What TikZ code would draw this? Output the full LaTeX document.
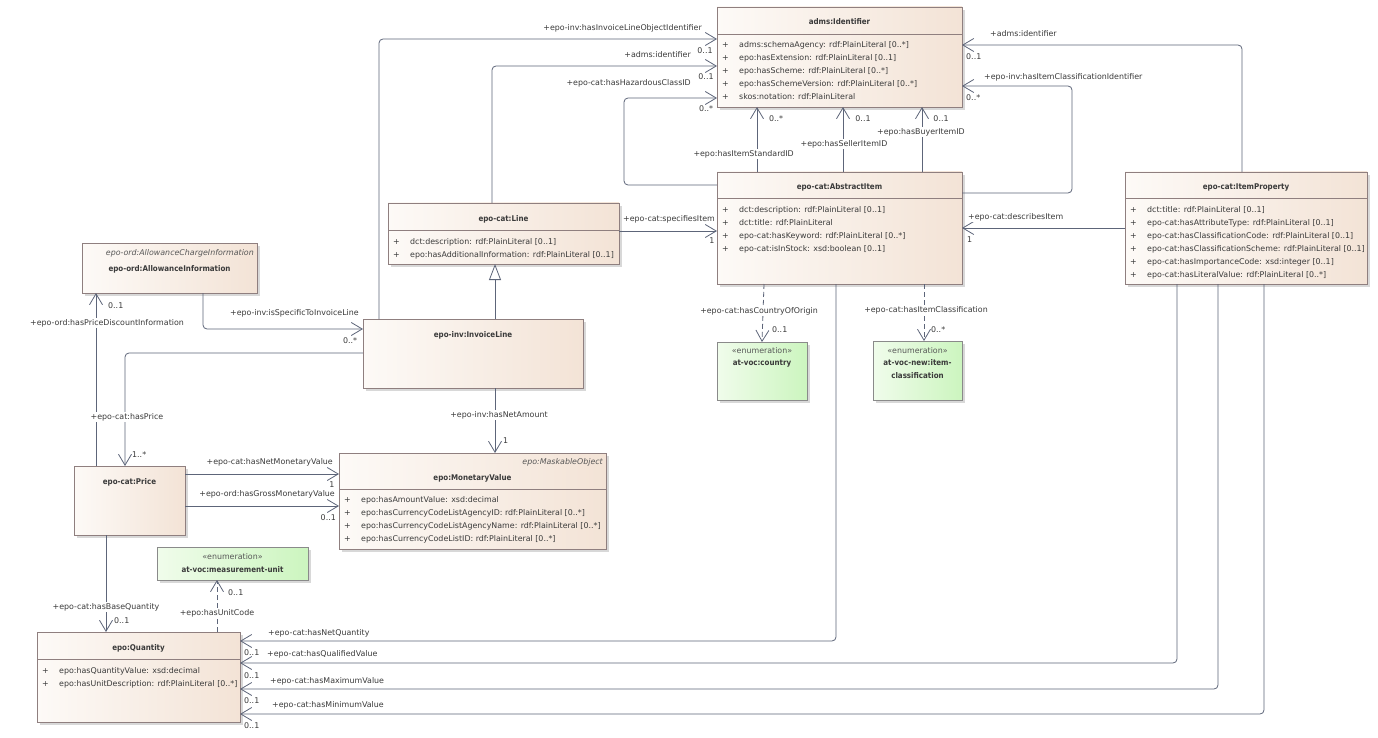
\documentclass[tikz,border=0pt]{standalone}
\usepackage{fontspec}
\setmainfont{DejaVu Sans}
\newfontfamily\ttlfam{DejaVu Sans}[FakeStretch=0.9]
\usetikzlibrary{arrows.meta,shadows}
\definecolor{linec}{HTML}{5D6579}
\definecolor{clsb}{HTML}{8F7F7F}
\definecolor{clsl}{HTML}{FDFAF7}
\definecolor{clsr}{HTML}{F3E3D6}
\definecolor{enl}{HTML}{F0FCEB}
\definecolor{enr}{HTML}{CCF5BF}
\definecolor{enb}{HTML}{8A8A8A}
\definecolor{txt}{HTML}{3A3A3A}
\tikzset{
  cls/.style={draw=clsb, line width=0.8pt, left color=clsl, right color=clsr, anchor=north west, inner sep=0pt, outer sep=0pt, drop shadow={shadow xshift=3pt, shadow yshift=-3pt, fill=black!30, opacity=0.5}},
  enumbox/.style={cls, left color=enl, right color=enr, draw=enb},
  ttl/.style={font=\ttlfam\bfseries\fontsize{7.9}{10}\selectfont, text=txt, inner sep=0pt},
  ital/.style={font=\itshape\fontsize{7.9}{10}\selectfont, text=txt!85, inner sep=0pt},
  stereo/.style={font=\fontsize{7.9}{10}\selectfont, text=txt!85, inner sep=0pt},
  attrs/.style={font=\fontsize{7.9}{13}\selectfont, text=txt, inner sep=0pt, anchor=north west},
  lbl/.style={font=\fontsize{7.9}{10}\selectfont, text=txt, inner sep=1pt, fill=white},
  mult/.style={font=\fontsize{7.9}{10}\selectfont, text=txt, inner sep=0pt},
  divl/.style={draw=clsb, line width=0.8pt},
  assoc/.style={draw=linec, line width=0.8pt, rounded corners=4pt, -{Straight Barb[length=11pt,width=13pt,line width=0.8pt]}},
  depend/.style={assoc, dash pattern=on 5pt off 3pt},
  genl/.style={draw=linec, line width=0.8pt, -{Triangle[open,length=16pt,width=12pt,fill=white,line width=0.8pt]}},
}
\newcommand{\attrtab}[1]{\begin{tabular}{@{}p{17pt}@{}l@{}}#1\end{tabular}}
\begin{document}
\begin{tikzpicture}[x=1pt,y=-1pt]
\fill[white] (0,0) rectangle (1378,738);
\useasboundingbox (0,0) rectangle (1378,738);

% ---------- classes ----------
\node[cls, minimum width=245pt, minimum height=100pt] (ident) at (717,7) {};
\draw[divl] ([yshift=-27pt]ident.north west) -- ([yshift=-27pt]ident.north east);
\node[ttl] (identT) at (839.5,22) {adms:Identifier};
\node[attrs] (identA) at (722,38) {\attrtab{+ & adms:schemaAgency: rdf:PlainLiteral [0..*]\\ + & epo:hasExtension: rdf:PlainLiteral [0..1]\\ + & epo:hasScheme: rdf:PlainLiteral [0..*]\\ + & epo:hasSchemeVersion: rdf:PlainLiteral [0..*]\\ + & skos:notation: rdf:PlainLiteral}};

\node[cls, minimum width=245pt, minimum height=112pt] (abstract) at (717,172) {};
\draw[divl] ([yshift=-26pt]abstract.north west) -- ([yshift=-26pt]abstract.north east);
\node[ttl] (abstractT) at (839.5,187) {epo-cat:AbstractItem};
\node[attrs] (abstractA) at (722,203) {\attrtab{+ & dct:description: rdf:PlainLiteral [0..1]\\ + & dct:title: rdf:PlainLiteral\\ + & epo-cat:hasKeyword: rdf:PlainLiteral [0..*]\\ + & epo-cat:isInStock: xsd:boolean [0..1]}};

\node[cls, minimum width=242pt, minimum height=112pt] (itemprop) at (1125,172) {};
\draw[divl] ([yshift=-26pt]itemprop.north west) -- ([yshift=-26pt]itemprop.north east);
\node[ttl] (itempropT) at (1246,187) {epo-cat:ItemProperty};
\node[attrs] (itempropA) at (1130,203) {\attrtab{+ & dct:title: rdf:PlainLiteral [0..1]\\ + & epo-cat:hasAttributeType: rdf:PlainLiteral [0..1]\\ + & epo-cat:hasClassificationCode: rdf:PlainLiteral [0..1]\\ + & epo-cat:hasClassificationScheme: rdf:PlainLiteral [0..1]\\ + & epo-cat:hasImportanceCode: xsd:integer [0..1]\\ + & epo-cat:hasLiteralValue: rdf:PlainLiteral [0..*]}};

\node[cls, minimum width=231pt, minimum height=61pt] (line) at (388,203) {};
\draw[divl] ([yshift=-27pt]line.north west) -- ([yshift=-27pt]line.north east);
\node[ttl] (lineT) at (503.5,219) {epo-cat:Line};
\node[attrs] (lineA) at (393,235) {\attrtab{+ & dct:description: rdf:PlainLiteral [0..1]\\ + & epo:hasAdditionalInformation: rdf:PlainLiteral [0..1]}};

\node[cls, minimum width=220pt, minimum height=69pt] (invl) at (363,319) {};
\node[ttl] (invlT) at (473,335) {epo-inv:InvoiceLine};

\node[cls, minimum width=175pt, minimum height=50pt] (allow) at (82,243) {};
\node[ital, anchor=east] (allowI) at (254,253) {epo-ord:AllowanceChargeInformation};
\node[ttl] (allowT) at (169.5,269) {epo-ord:AllowanceInformation};

\node[cls, minimum width=111pt, minimum height=69pt] (price) at (74,466) {};
\node[ttl] (priceT) at (129.5,482) {epo-cat:Price};

\node[cls, minimum width=267pt, minimum height=96pt] (monval) at (339,453) {};
\draw[divl] ([yshift=-36pt]monval.north west) -- ([yshift=-36pt]monval.north east);
\node[ital, anchor=east] (monvalI) at (603,462) {epo:MaskableObject};
\node[ttl] (monvalT) at (472.5,478) {epo:MonetaryValue};
\node[attrs] (monvalA) at (344,493) {\attrtab{+ & epo:hasAmountValue: xsd:decimal\\ + & epo:hasCurrencyCodeListAgencyID: rdf:PlainLiteral [0..*]\\ + & epo:hasCurrencyCodeListAgencyName: rdf:PlainLiteral [0..*]\\ + & epo:hasCurrencyCodeListID: rdf:PlainLiteral [0..*]}};

\node[cls, minimum width=203pt, minimum height=90pt] (qty) at (37,632) {};
\draw[divl] ([yshift=-27pt]qty.north west) -- ([yshift=-27pt]qty.north east);
\node[ttl] (qtyT) at (138.5,648) {epo:Quantity};
\node[attrs] (qtyA) at (42,664) {\attrtab{+ & epo:hasQuantityValue: xsd:decimal\\ + & epo:hasUnitDescription: rdf:PlainLiteral [0..*]}};

% ---------- enumerations ----------
\node[enumbox, minimum width=151pt, minimum height=33pt] (mu) at (157,547) {};
\node[stereo] (muS) at (232.5,557) {«enumeration»};
\node[ttl] (muT) at (232.5,570) {at-voc:measurement-unit};

\node[enumbox, minimum width=90pt, minimum height=58pt] (country) at (717,342) {};
\node[stereo] (countryS) at (762,351) {«enumeration»};
\node[ttl] (countryT) at (762,364) {at-voc:country};

\node[enumbox, minimum width=89pt, minimum height=59pt] (itemcls) at (873,341) {};
\node[stereo] (itemclsS) at (917.5,351) {«enumeration»};
\node[ttl, align=center, font=\ttlfam\bfseries\fontsize{7.9}{13}\selectfont, anchor=north] (itemclsT) at (917.5,359) {at-voc-new:item-\\classification};

% ---------- connectors ----------
\draw[assoc] ([xshift=16pt]invl.north west) |- ([yshift=-32pt]ident.north west);
\node[lbl, anchor=east] (l1) at (703,28) {+epo-inv:hasInvoiceLineObjectIdentifier};
\node[mult] (m1) at (705,51) {0..1};

\draw[assoc] ([xshift=104pt]line.north west) |- ([yshift=-59pt]ident.north west);
\node[lbl, anchor=east] (l2) at (692,55) {+adms:identifier};
\node[mult] (m2) at (706,77) {0..1};

\draw[assoc] ([yshift=-13pt]abstract.north west) -- ++(-93,0) |- ([yshift=-91pt]ident.north west);
\node[lbl, anchor=east] (l3) at (692,83) {+epo-cat:hasHazardousClassID};
\node[mult] (m3) at (706,109) {0..*};

\draw[assoc] ([xshift=40pt]abstract.north west) -- ([xshift=40pt]ident.south west);
\node[lbl, anchor=east] (l4) at (795,154) {+epo:hasItemStandardID};
\node[mult] (m4) at (776,119) {0..*};

\draw[assoc] ([xshift=126pt]abstract.north west) -- ([xshift=126pt]ident.south west);
\node[lbl] (l5) at (844,144) {+epo:hasSellerItemID};
\node[mult] (m5) at (863,119) {0..1};

\draw[assoc] ([xshift=205pt]abstract.north west) -- ([xshift=205pt]ident.south west);
\node[lbl] (l6) at (921,132) {+epo:hasBuyerItemID};
\node[mult] (m6) at (941,119) {0..1};

\draw[assoc] ([xshift=117pt]itemprop.north west) |- ([yshift=-38pt]ident.north east);
\node[lbl, anchor=west] (l7) at (989,34) {+adms:identifier};
\node[mult, anchor=west] (m7) at (966,57) {0..1};

\draw[assoc] ([yshift=-21pt]abstract.north east) -- ++(110,0) |- ([yshift=-79pt]ident.north east);
\node[lbl, anchor=west] (l8) at (983,77) {+epo-inv:hasItemClassificationIdentifier};
\node[mult, anchor=west] (m8) at (966,98) {0..*};

\draw[assoc] ([yshift=-56pt]itemprop.north west) -- ([yshift=-56pt]abstract.north east);
\node[lbl, anchor=west] (l9) at (967,217) {+epo-cat:describesItem};
\node[mult, anchor=west] (m9) at (967,240) {1};

\draw[assoc] ([yshift=-28pt]line.north east) -- ([yshift=-59pt]abstract.north west);
\node[lbl, anchor=west] (l10) at (622,219) {+epo-cat:specifiesItem};
\node[mult] (m10) at (712,241) {1};

\draw[depend] ([xshift=47pt]abstract.south west) -- ([xshift=45pt]country.north west);
\node[lbl] (l11) at (759,311) {+epo-cat:hasCountryOfOrigin};
\node[mult, anchor=west] (m11) at (772,330) {0..1};

\draw[depend] ([xshift=207pt]abstract.south west) -- ([xshift=51pt]itemcls.north west);
\node[lbl] (l12) at (926,310) {+epo-cat:hasItemClassification};
\node[mult, anchor=west] (m12) at (931,330) {0..*};

\draw[assoc] ([xshift=121pt]allow.south west) |- ([yshift=-10pt]invl.north west);
\node[lbl, anchor=west] (l13) at (229,313) {+epo-inv:isSpecificToInvoiceLine};
\node[mult] (m13) at (350,341) {0..*};

\draw[assoc] ([xshift=22pt]price.north west) -- ([xshift=14pt]allow.south west);
\node[lbl] (l14) at (107,323) {+epo-ord:hasPriceDiscountInformation};
\node[mult, anchor=west] (m14) at (108,306) {0..1};

\draw[assoc] ([yshift=-34pt]invl.north west) -| ([xshift=51pt]price.north west);
\node[lbl] (l15) at (127,417) {+epo-cat:hasPrice};
\node[mult, anchor=west] (m15) at (132,455) {1..*};

\draw[assoc] ([xshift=132pt]invl.south west) -- ([xshift=156pt]monval.north west);
\node[lbl] (l16) at (499,415) {+epo-inv:hasNetAmount};
\node[mult, anchor=west] (m16) at (503,441) {1};

\draw[assoc] ([yshift=-8pt]price.north east) -- ([yshift=-21pt]monval.north west);
\node[lbl, anchor=east] (l17) at (334,462) {+epo-cat:hasNetMonetaryValue};
\node[mult] (m17) at (332,485) {1};

\draw[assoc] ([yshift=-40pt]price.north east) -- ([yshift=-53pt]monval.north west);
\node[lbl, anchor=east] (l18) at (336,494) {+epo-ord:hasGrossMonetaryValue};
\node[mult, anchor=east] (m18) at (336,518) {0..1};

\draw[assoc] ([xshift=32pt]price.south west) -- ([xshift=69pt]qty.north west);
\node[lbl] (l19) at (106,607) {+epo-cat:hasBaseQuantity};
\node[mult, anchor=west] (m19) at (114,621) {0..1};

\draw[depend] ([xshift=180pt]qty.north west) -- ([xshift=60pt]mu.south west);
\node[lbl] (l20) at (217,613) {+epo:hasUnitCode};
\node[mult, anchor=west] (m20) at (228,593) {0..1};

\draw[assoc] ([xshift=119pt]abstract.south west) |- ([yshift=-9pt]qty.north east);
\node[lbl, anchor=west] (l21) at (267,633) {+epo-cat:hasNetQuantity};
\node[mult, anchor=west] (m21) at (244,653) {0..1};

\draw[assoc] ([xshift=52pt]itemprop.south west) |- ([yshift=-31pt]qty.north east);
\node[lbl, anchor=west] (l22) at (266,654) {+epo-cat:hasQualifiedValue};
\node[mult, anchor=west] (m22) at (244,676) {0..1};

\draw[assoc] ([xshift=93pt]itemprop.south west) |- ([yshift=-57pt]qty.north east);
\node[lbl, anchor=west] (l23) at (269,681) {+epo-cat:hasMaximumValue};
\node[mult, anchor=west] (m23) at (244,701) {0..1};

\draw[assoc] ([xshift=139pt]itemprop.south west) |- ([yshift=-82pt]qty.north east);
\node[lbl, anchor=west] (l24) at (271,705) {+epo-cat:hasMinimumValue};
\node[mult, anchor=west] (m24) at (244,726) {0..1};

\draw[genl] ([xshift=132pt]invl.north west) -- ([xshift=107pt]line.south west);
\end{tikzpicture}
\end{document}
